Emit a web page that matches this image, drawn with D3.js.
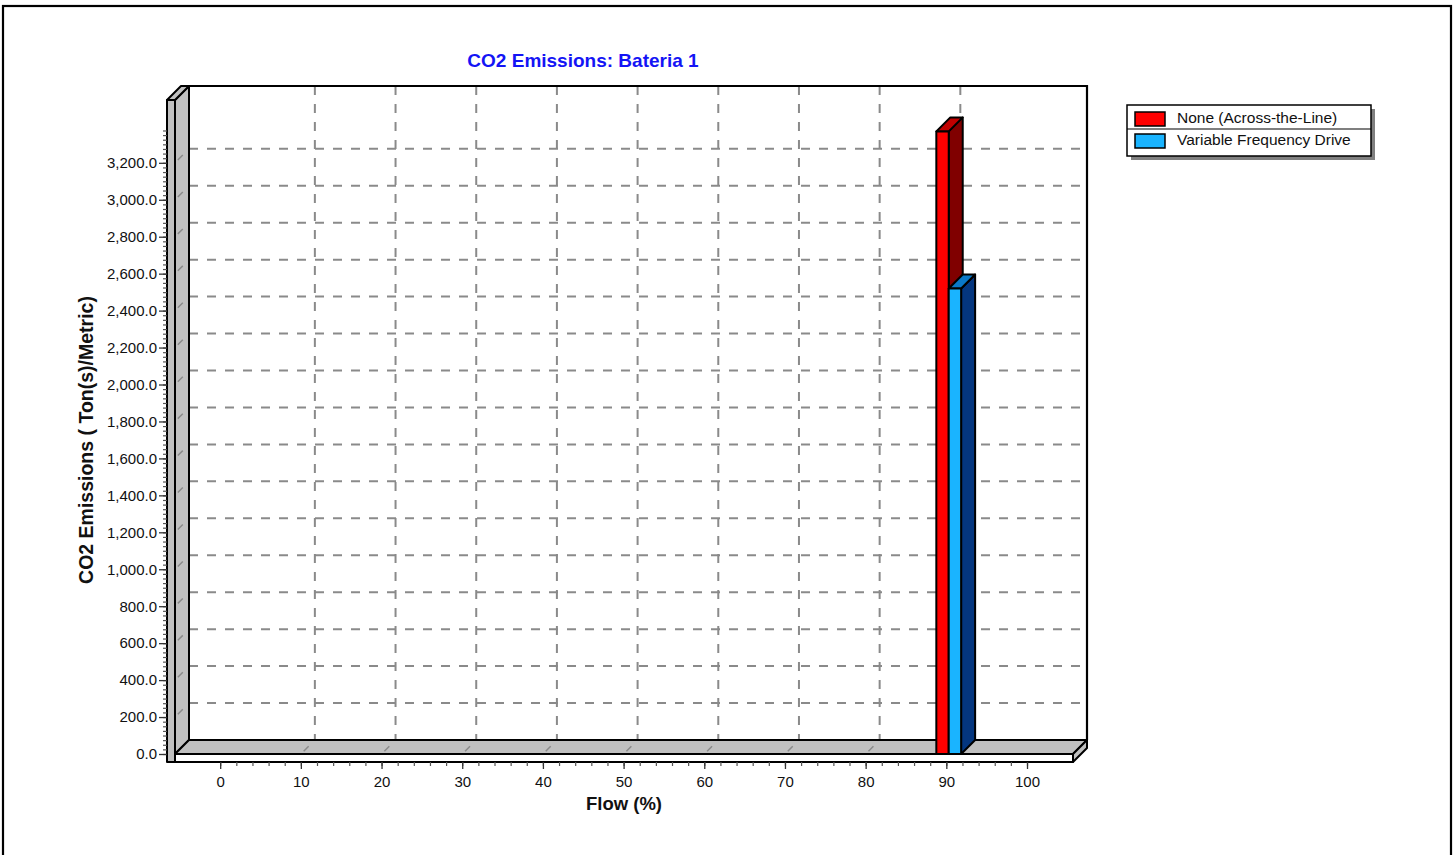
<!DOCTYPE html>
<html>
<head>
<meta charset="utf-8">
<script src="https://cdn.jsdelivr.net/npm/d3@7"></script>
<style>
  html, body { margin: 0; padding: 0; background: #fff; }
  svg { display: block; font-family: "Liberation Sans", Arial, sans-serif; }
</style>
</head>
<body>
<svg id="chart" width="1455" height="855"></svg>
<script>
// Flow points (%) and CO2 emissions per drive type
const flows = [90];
const noneValues = [3370];
const vfdValues = [2520];
const seriesNames = ["None (Across-the-Line)", "Variable Frequency Drive"];
const xTickValues = [0, 10, 20, 30, 40, 50, 60, 70, 80, 90, 100];
const yTickValues = [0, 200, 400, 600, 800, 1000, 1200, 1400, 1600, 1800, 2000, 2200, 2400, 2600, 2800, 3000, 3200];
const chartTitle = "CO2 Emissions: Bateria 1";
const xTitle = "Flow (%)";
const yTitle = "CO2 Emissions ( Ton(s)/Metric)";

const svg = d3.select("#chart");

// 3D box: front plane scales, back plane shifted by depth
const DX = 14, DY = 14;
const x = d3.scaleLinear().domain([-5.6, 105.7]).range([175, 1073]);
const y = d3.scaleLinear().domain([0, 3540]).range([754, 100]);
const [xMinV, xMaxV] = x.domain();
const [y0V, yTopV] = y.domain();
const xL = x(xMinV), xR = x(xMaxV), yF = y(y0V), yT = y(yTopV);
const wallW = 8;      // thickness of the left wall slab
const floorH = 8;     // thickness of the floor slab

const gridColor = "#8a8a8a";
const dash = "9,9";

// outer frame
svg.append("rect").attr("x", 3).attr("y", 6).attr("width", 1448).attr("height", 870)
  .attr("fill", "none").attr("stroke", "#000").attr("stroke-width", 2.2);

// title
svg.append("text").attr("x", 583).attr("y", 67).attr("text-anchor", "middle")
  .attr("font-size", 19).attr("font-weight", "bold").attr("fill", "#1414f5").text(chartTitle);

const g = svg.append("g");

// back wall
g.append("rect").attr("x", xL + DX).attr("y", yT - DY).attr("width", xR - xL).attr("height", yF - yT)
  .attr("fill", "#fff");

// horizontal gridlines on back wall
yTickValues.filter(v => v > 0).forEach(v => {
  g.append("line").attr("x1", xL + DX).attr("x2", xR + DX).attr("y1", y(v) - DY).attr("y2", y(v) - DY)
    .attr("stroke", gridColor).attr("stroke-width", 2).attr("stroke-dasharray", dash);
});
// vertical gridlines on back wall
const vGrid = xTickValues.filter(v => v > 0 && v < 100);
vGrid.forEach(v => {
  g.append("line").attr("x1", x(v) + DX).attr("x2", x(v) + DX).attr("y1", yT - DY).attr("y2", yF - DY)
    .attr("stroke", gridColor).attr("stroke-width", 2).attr("stroke-dasharray", dash);
});

// back wall top and right edges
g.append("path")
  .attr("d", `M${xL + DX - wallW},${yT - DY} L${xR + DX},${yT - DY} L${xR + DX},${yF - DY}`)
  .attr("fill", "none").attr("stroke", "#000").attr("stroke-width", 2.2);

function poly(sel, pts, fill, sw = 2) {
  return sel.append("polygon").attr("points", pts.map(p => p.join(",")).join(" "))
    .attr("fill", fill).attr("stroke", "#000").attr("stroke-width", sw).attr("stroke-linejoin", "round");
}

// left wall side face with diagonal grid dashes
poly(g, [[xL, yF], [xL + DX, yF - DY], [xL + DX, yT - DY], [xL, yT]], "#c0c0c0");
yTickValues.filter(v => v > 0).forEach(v => {
  g.append("line").attr("x1", xL).attr("y1", y(v)).attr("x2", xL + DX).attr("y2", y(v) - DY)
    .attr("stroke", gridColor).attr("stroke-width", 1.5).attr("stroke-dasharray", "0,4,7,20");
});

// floor: top face, front face, right face
poly(g, [[xL, yF], [xR, yF], [xR + DX, yF - DY], [xL + DX, yF - DY]], "#c0c0c0");
vGrid.forEach(v => {
  g.append("line").attr("x1", x(v)).attr("y1", yF).attr("x2", x(v) + DX).attr("y2", yF - DY)
    .attr("stroke", gridColor).attr("stroke-width", 1.5).attr("stroke-dasharray", "0,4,7,20");
});
poly(g, [[xL, yF], [xR, yF], [xR, yF + floorH], [xL, yF + floorH]], "#ffffff");
poly(g, [[xR, yF], [xR + DX, yF - DY], [xR + DX, yF - DY + floorH], [xR, yF + floorH]], "#c0c0c0");
// left wall front and top faces
poly(g, [[xL - wallW, yT], [xL, yT], [xL, yF + floorH], [xL - wallW, yF + floorH]], "#c0c0c0");
poly(g, [[xL - wallW, yT], [xL, yT], [xL + DX, yT - DY], [xL + DX - wallW, yT - DY]], "#c0c0c0");

// bars
const barW = 12.4;
const barShift = 2.4;
const series = [
  { values: noneValues, front: "#ff0000", top: "#c00000", side: "#800000", off: -1 },
  { values: vfdValues, front: "#1ab4ff", top: "#0a78c8", side: "#04367f", off: 0 }
];
const bars = g.append("g");
series.forEach(s => {
  flows.forEach((f, i) => {
    const v = s.values[i];
    const x0 = x(f) + barShift + s.off * barW;
    const x1 = x0 + barW;
    const yv = y(v);
    poly(bars, [[x1, yF], [x1 + DX, yF - DY], [x1 + DX, yv - DY], [x1, yv]], s.side);
    poly(bars, [[x0, yv], [x1, yv], [x1 + DX, yv - DY], [x0 + DX, yv - DY]], s.top);
    poly(bars, [[x0, yF], [x1, yF], [x1, yv], [x0, yv]], s.front);
  });
});

// y axis ticks and labels
const axisX = xL - wallW;
const yMinor = d3.range(0, 3375 + 1, 25);
svg.append("g").attr("transform", `translate(${axisX},0)`)
  .call(d3.axisLeft(y).tickValues(yMinor).tickSize(4).tickFormat(""))
  .call(a => a.select(".domain").remove())
  .call(a => a.selectAll("line").attr("stroke", "#555").attr("stroke-width", 1.2));
svg.append("g").attr("transform", `translate(${axisX},0)`)
  .call(d3.axisLeft(y).tickValues(yTickValues).tickSize(8).tickPadding(2).tickFormat(d3.format(",.1f")))
  .call(a => a.select(".domain").remove())
  .call(a => a.selectAll("line").attr("stroke", "#333").attr("stroke-width", 1.3))
  .call(a => a.selectAll("text").attr("font-size", 15).attr("fill", "#111")
    .attr("font-family", "'Liberation Sans', Arial, sans-serif"));

// x axis ticks and labels
const axisY = yF + floorH;
svg.append("g").attr("transform", `translate(0,${axisY})`)
  .call(d3.axisBottom(x).tickValues(d3.range(0, 101, 2)).tickSize(4).tickFormat(""))
  .call(a => a.select(".domain").remove())
  .call(a => a.selectAll("line").attr("stroke", "#555").attr("stroke-width", 1.2));
svg.append("g").attr("transform", `translate(0,${axisY})`)
  .call(d3.axisBottom(x).tickValues(xTickValues).tickSize(7).tickPadding(7).tickFormat(d3.format("d")))
  .call(a => a.select(".domain").remove())
  .call(a => a.selectAll("line").attr("stroke", "#333").attr("stroke-width", 1.3))
  .call(a => a.selectAll("text").attr("font-size", 15).attr("fill", "#111")
    .attr("font-family", "'Liberation Sans', Arial, sans-serif"));

// axis titles
svg.append("text").attr("x", 624).attr("y", 810).attr("text-anchor", "middle")
  .attr("font-size", 18.5).attr("font-weight", "bold").attr("fill", "#111").text(xTitle);
svg.append("text").attr("transform", "translate(93,440) rotate(-90)").attr("text-anchor", "middle")
  .attr("font-size", 19.5).attr("font-weight", "bold").attr("fill", "#111").text(yTitle);

// legend
const lg = svg.append("g").attr("transform", "translate(1127,105)");
const lw = 244, lh = 51, rowStep = 22;
lg.append("rect").attr("x", 4).attr("y", 4).attr("width", lw).attr("height", lh).attr("fill", "#808080");
lg.append("rect").attr("width", lw).attr("height", lh).attr("fill", "#fff")
  .attr("stroke", "#000").attr("stroke-width", 1.5);
lg.append("line").attr("x1", 0).attr("x2", lw).attr("y1", 24).attr("y2", 24)
  .attr("stroke", "#000").attr("stroke-width", 1.2);
seriesNames.forEach((name, i) => {
  const row = lg.append("g").attr("transform", `translate(0,${i * rowStep})`);
  row.append("rect").attr("x", 8).attr("y", 7).attr("width", 30).attr("height", 14)
    .attr("fill", series[i].front).attr("stroke", "#000").attr("stroke-width", 1.5);
  row.append("text").attr("x", 50).attr("y", 18).attr("font-size", 15.5).attr("fill", "#111").text(name);
});
</script>
</body>
</html>
